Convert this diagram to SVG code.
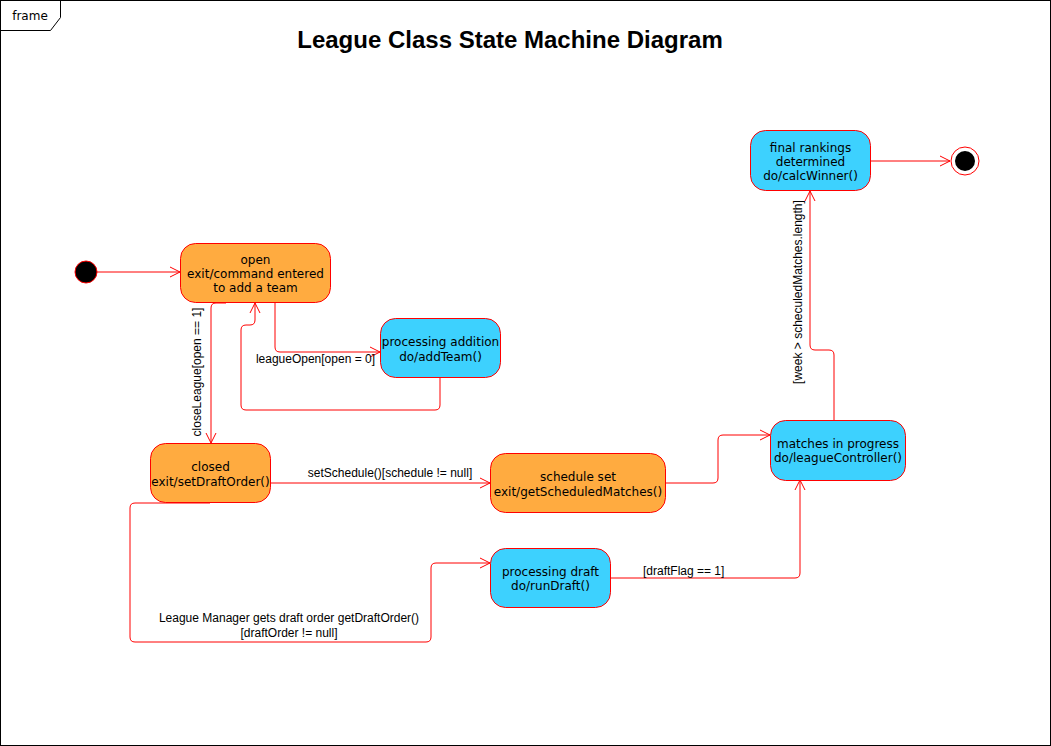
<svg xmlns="http://www.w3.org/2000/svg" width="1051" height="746" viewBox="0 0 1051 746">
<style>
.node{stroke:#ff0000;stroke-width:1}
.orange{fill:#ffab40}
.cyan{fill:#3dd1fe}
.nt{font-family:"DejaVu Sans",sans-serif;font-size:12px;fill:#000;text-anchor:middle}
.el{font-family:"Liberation Sans",Arial,sans-serif;font-size:12px;fill:#000}
.edge{fill:none;stroke:#ff0000;stroke-width:1;marker-end:url(#arr)}
</style>
<defs>
<marker id="arr" markerUnits="userSpaceOnUse" markerWidth="14" markerHeight="14" refX="11" refY="6" orient="auto">
<path d="M1,1 L11,6 L1,11" fill="none" stroke="#ff0000" stroke-width="1"/>
</marker>
</defs>
<rect x="0" y="0" width="1051" height="746" fill="#ffffff"/>
<g id="frame">
<rect x="0.5" y="0.5" width="1050" height="745" fill="none" stroke="#000" stroke-width="1"/>
<path d="M0.5,30.5 H50.5 L60.5,17.5 V0.5" fill="none" stroke="#000" stroke-width="1"/>
<text x="30" y="20" font-family="DejaVu Sans,sans-serif" font-size="12" text-anchor="middle">frame</text>
</g>
<text id="title" x="510" y="48" font-family="Liberation Sans,Arial,sans-serif" font-size="24" font-weight="bold" text-anchor="middle">League Class State Machine Diagram</text>

<g id="connectors">
<path class="edge" d="M97,272 H180"/>
<path class="edge" d="M275,303 V347 Q275,352 280,352 H380"/>
<text class="el" x="375" y="363" text-anchor="end">leagueOpen[open = 0]</text>
<path class="edge" d="M440,378 V405 Q440,410 435,410 H246 Q241,410 241,405 V330 Q241,325 246,325 H250 Q255,325 255,320 V303"/>
<path class="edge" d="M226,303 H216 Q211,303 211,308 V443"/>
<text class="el" transform="translate(201,372) rotate(-90)" text-anchor="middle">closeLeague[open == 1]</text>
<path class="edge" d="M270,483 H490"/>
<text class="el" x="390" y="477" text-anchor="middle">setSchedule()[schedule != null]</text>
<path class="edge" d="M210,503 H135 Q130,503 130,508 V637 Q130,642 135,642 H426 Q431,642 431,637 V568 Q431,563 436,563 H490"/>
<text class="el" x="289" y="622" text-anchor="middle">League Manager gets draft order getDraftOrder()</text>
<text class="el" x="289" y="637" text-anchor="middle">[draftOrder != null]</text>
<path class="edge" d="M665,483 H713 Q718,483 718,478 V440 Q718,435 723,435 H770"/>
<path class="edge" d="M610,578 H795 Q800,578 800,573 V480"/>
<text class="el" x="643" y="575">[draftFlag == 1]</text>
<path class="edge" d="M834,421 V355 Q834,350 829,350 H815 Q810,350 810,345 V191"/>
<text class="el" transform="translate(802,292) rotate(-90)" text-anchor="middle">[week &gt; scheculedMatches.length]</text>
<path class="edge" d="M870,161 H950"/>
</g>

<g id="initial">
<circle cx="86" cy="272" r="11" fill="#000" stroke="#ff0000" stroke-width="1"/>
</g>
<g id="open">
<rect class="node orange" x="180.5" y="243.5" width="150" height="59" rx="15"/>
<text class="nt" x="255.5" y="264">open</text>
<text class="nt" x="255.5" y="278">exit/command entered</text>
<text class="nt" x="255.5" y="292">to add a team</text>
</g>
<g id="processing-addition">
<rect class="node cyan" x="380.5" y="318.5" width="120" height="59" rx="15"/>
<text class="nt" x="440.5" y="346">processing addition</text>
<text class="nt" x="440.5" y="361">do/addTeam()</text>
</g>
<g id="closed">
<rect class="node orange" x="150.5" y="443.5" width="120" height="59" rx="15"/>
<text class="nt" x="210.5" y="471">closed</text>
<text class="nt" x="210.5" y="486">exit/setDraftOrder()</text>
</g>
<g id="schedule-set">
<rect class="node orange" x="490.5" y="453.5" width="175" height="59" rx="15"/>
<text class="nt" x="578" y="481">schedule set</text>
<text class="nt" x="578" y="496">exit/getScheduledMatches()</text>
</g>
<g id="processing-draft">
<rect class="node cyan" x="490.5" y="548.5" width="120" height="59" rx="15"/>
<text class="nt" x="550.5" y="576">processing draft</text>
<text class="nt" x="550.5" y="590">do/runDraft()</text>
</g>
<g id="matches-in-progress">
<rect class="node cyan" x="770.5" y="420.5" width="135" height="60" rx="15"/>
<text class="nt" x="838" y="448">matches in progress</text>
<text class="nt" x="838" y="462">do/leagueController()</text>
</g>
<g id="final-rankings">
<rect class="node cyan" x="750.5" y="130.5" width="120" height="60" rx="15"/>
<text class="nt" x="810.5" y="152">final rankings</text>
<text class="nt" x="810.5" y="166">determined</text>
<text class="nt" x="810.5" y="180">do/calcWinner()</text>
</g>
<g id="final">
<circle cx="965" cy="161" r="14" fill="#fff" stroke="#ff0000" stroke-width="1"/>
<circle cx="965" cy="161" r="10" fill="#000"/>
</g>
</svg>
